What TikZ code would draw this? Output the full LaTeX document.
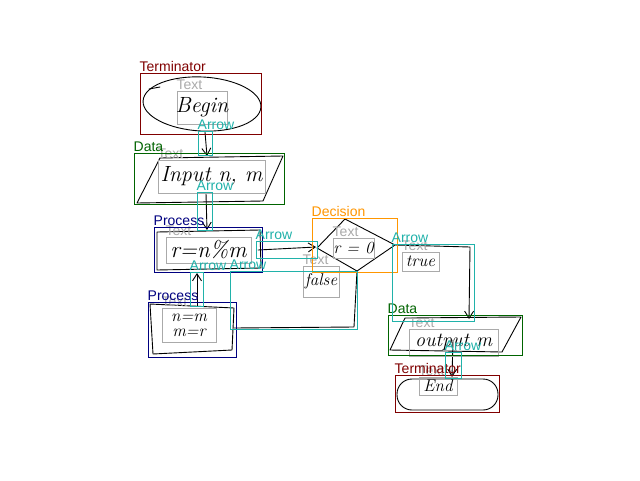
\documentclass[tikz,border=0pt]{standalone}
\usepackage{fontspec}
\newfontfamily\labfont{Liberation Sans}
\usetikzlibrary{arrows.meta,fit}
\definecolor{termc}{RGB}{128,0,0}
\definecolor{datac}{RGB}{0,100,0}
\definecolor{procc}{RGB}{0,0,128}
\definecolor{decc}{RGB}{255,150,0}
\definecolor{arrc}{RGB}{32,178,170}
\definecolor{txtgray}{RGB}{170,170,170}
\begin{document}
\begin{tikzpicture}[x=1pt,y=-1pt,
  ann/.style={draw=#1, line width=1pt, inner sep=0pt},
  lab/.style={text=#1, font=\labfont\fontsize{14}{14}\selectfont, inner sep=0pt, anchor=base west, yshift=1.5pt},
  tbox/.style={draw=txtgray, line width=1pt, inner sep=0pt},
  hw/.style={font=\itshape\fontsize{#1}{#1}\selectfont, inner sep=0pt, align=center},
  hand/.style={line width=0.9pt, black, line join=round, line cap=round},
  arr/.style={hand, -{Straight Barb[length=7pt,width=9pt]}}
]
\fill[white] (0,0) rectangle (640,480);
\useasboundingbox (0,0) rectangle (640,480);

% ---------- hand-drawn shapes ----------
\draw[hand, rotate around={-3:(202,104)}] (202,104) ellipse [x radius=59, y radius=27];
\draw[hand] (149,89) -- (160,87);
\draw[hand] (160,158) -- (283,156) -- (263,201) -- (137,203) -- cycle;
\draw[hand] (157,232) -- (260,230) -- (261,268) -- (157,270) -- cycle;
\draw[hand] (317,248) -- (345,219) -- (395,245) -- (357,271) -- cycle;
\draw[hand] (150,304) -- (234,308) -- (232,350) -- (153,354) -- cycle;
\draw[hand] (405,318) -- (521,317) -- (502,352) -- (390,350) -- cycle;
\draw[hand, rounded corners=15pt] (397,379) rectangle (498,410);

% ---------- connector end points ----------
\coordinate (c1a) at (205,132);  \coordinate (c1b) at (207,156);
\coordinate (c2a) at (206,193);  \coordinate (c2b) at (207,230);
\coordinate (c3a) at (258,250);  \coordinate (c3b) at (316,247);
\coordinate (c4a) at (395,245);  \coordinate (c4m) at (470,247);  \coordinate (c4b) at (469,319);
\coordinate (c5a) at (357,271);  \coordinate (c5m) at (354,327);  \coordinate (c5b) at (234,328);
\coordinate (c6a) at (197,306);  \coordinate (c6b) at (197,273);
\coordinate (c7a) at (453,340);  \coordinate (c7b) at (452,377);

\draw[arr] (c1a) -- (c1b);
\draw[arr] (c2a) -- (c2b);
\draw[arr] (c3a) -- (c3b);
\draw[arr] (c4a) -- (c4m) -- (c4b);
\draw[hand] (c5a) -- (c5m) -- (c5b);
\draw[arr] (c6a) -- (c6b);
\draw[arr] (c7a) -- (c7b);

% ---------- text boxes ----------
\node[tbox, fit={(177,91)(227,124)}] (tx1) {};
\node[hw=22] (tx1t) at (tx1.center) {Begin};
\node[tbox, fit={(158,160)(265,193)}] (tx2) {};
\node[hw=22] (tx2t) at (tx2.center) {Input n, m};
\node[tbox, fit={(166,237)(251,263)}] (tx3) {};
\node[hw=23] (tx3t) at (tx3.center) {r=n\%m};
\node[tbox, fit={(333,238)(374,258)}] (tx4) {};
\node[hw=17] (tx4t) at (tx4.center) {r = 0};
\node[tbox, fit={(402,252)(439,271)}] (tx5) {};
\node[hw=17] (tx5t) at (tx5.center) {true};
\node[tbox, fit={(303,266)(339,297)}] (tx6) {};
\node[hw=17] (tx6t) at (tx6.center) {false};
\node[tbox, fit={(162,308)(216,342)}] (tx7) {};
\node[hw=17] (tx7t) at (tx7.center) {n=m\\[-2pt]m=r};
\node[tbox, fit={(409,329)(498,356)}] (tx8) {};
\node[hw=20] (tx8t) at (tx8.center) {output m};
\node[tbox, fit={(419,377)(457,395)}] (tx9) {};
\node[hw=17] (tx9t) at (tx9.center) {End};

\foreach \n in {tx1,tx2,tx3,tx4,tx5,tx6,tx7,tx8,tx9}
  \node[lab=txtgray] (\n lab) at (\n.north west) {Text};

% ---------- annotation boxes ----------
\node[ann=termc, fit={(140,73)(261,134)}] (term1) {};
\node[lab=termc] (term1lab) at (term1.north west) {Terminator};
\node[ann=datac, fit={(134,153)(284,204)}] (data1) {};
\node[lab=datac] (data1lab) at (data1.north west) {Data};
\node[ann=procc, fit={(154,227)(262,272)}] (proc1) {};
\node[lab=procc] (proc1lab) at (proc1.north west) {Process};
\node[ann=decc, fit={(312,218)(397,272)}] (dec1) {};
\node[lab=decc] (dec1lab) at (dec1.north west) {Decision};
\node[ann=procc, fit={(148,302)(236,357)}] (proc2) {};
\node[lab=procc] (proc2lab) at (proc2.north west) {Process};
\node[ann=datac, fit={(388,315)(522,355)}] (data2) {};
\node[lab=datac] (data2lab) at (data2.north west) {Data};
\node[ann=termc, fit={(395,375)(499,412)}] (term2) {};
\node[lab=termc] (term2lab) at (term2.north west) {Terminator};

\node[ann=arrc, fit={(198,131)(212,155)}] (ar1) {};
\node[ann=arrc, fit={(197,192)(212,230)}] (ar2) {};
\node[ann=arrc, fit={(256,241)(317,258)}] (ar3) {};
\node[ann=arrc, fit={(392,244)(474,321)}] (ar4) {};
\node[ann=arrc, fit={(230,271)(357,329)}] (ar5) {};
\node[ann=arrc, fit={(190,272)(203,306)}] (ar6) {};
\node[ann=arrc, fit={(445,352)(461,378)}] (ar7) {};
\foreach \n in {ar1,ar2,ar3,ar4,ar5,ar6,ar7}
  \node[lab=arrc] (\n lab) at (\n.north west) {Arrow};
\end{tikzpicture}
\end{document}
